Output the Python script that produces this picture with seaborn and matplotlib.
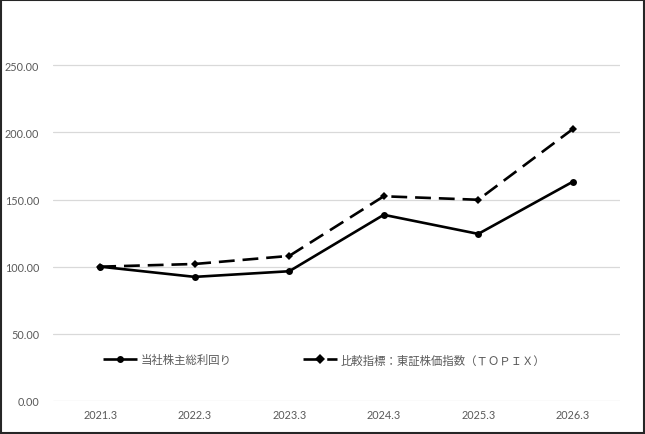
import pandas as pd
import matplotlib
matplotlib.use('Agg')
import matplotlib.pyplot as plt
import seaborn as sns

# data
years = ['2021.3', '2022.3', '2023.3', '2024.3', '2025.3', '2026.3']
company_tsr = [100.0, 92.4, 96.6, 138.6, 124.4, 163.2]
topix = [100.0, 102.0, 108.0, 152.4, 149.8, 202.4]
labels = ['当社株主総利回り', '比較指標：東証株価指数（ＴＯＰＩＸ）']
yticks = [0, 50, 100, 150, 200, 250]

sns.set_style('white')
plt.rcParams['font.family'] = ['Noto Sans CJK JP', 'DejaVu Sans']

df = pd.DataFrame({'year': years * 2,
                   'value': company_tsr + topix,
                   'series': [labels[0]] * len(years) + [labels[1]] * len(years)})

fig = plt.figure(figsize=(6.45, 4.35), dpi=100)
ax = fig.add_axes([53 / 645, 33 / 435, 567 / 645, 403 / 435])

sns.lineplot(data=df, x='year', y='value', style='series', markers=['o', 'D'],
             dashes=[(1, 0), (6, 3)], color='black', linewidth=1.9,
             markersize=5, markeredgewidth=0, ax=ax, sort=False)
# make the diamonds a bit smaller
ax.lines[1].set_markersize(4)

ax.set_xlim(-0.5, len(years) - 0.5)
ax.set_ylim(0, 300)
ax.set_yticks(yticks)
ax.set_yticklabels([f'{v:.2f}' for v in yticks])
ax.set_xlabel('')
ax.set_ylabel('')
ax.grid(axis='y', color='#d9d9d9', linewidth=0.9)
ax.set_axisbelow(True)
for s in ax.spines.values():
    s.set_visible(False)
ax.tick_params(axis='both', length=0, labelcolor='#595959',
               labelsize=7.8, labelfontfamily='Lato')
ax.tick_params(axis='x', pad=6)
ax.tick_params(axis='y', pad=10)

leg = ax.legend(loc='center left', bbox_to_anchor=(0.088, 0.102), ncol=2,
                frameon=False, fontsize=8.2, handlelength=3.0, handletextpad=0.3,
                columnspacing=6.3, borderaxespad=0, borderpad=0)
for t in leg.get_texts():
    t.set_color('#595959')

# dark frame around the whole picture
fig.patches.append(plt.Rectangle((0.0015, 0.002), 0.997, 0.996, transform=fig.transFigure,
                                 fill=False, edgecolor='#262626', linewidth=1.5))

fig.savefig('out.png', dpi=100)
